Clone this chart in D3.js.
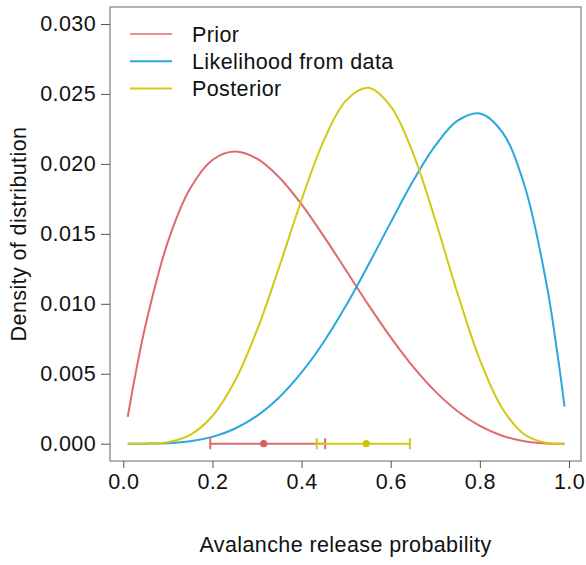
<!DOCTYPE html>
<html>

<head>
	<meta charset="utf-8">
	<script src="https://cdn.jsdelivr.net/npm/d3@7"></script>
	<style>
		body {
			margin: 0;
			background: #fff;
		}

		text {
			font-family: "Liberation Sans", Arial, Helvetica, sans-serif;
			fill: #111;
			letter-spacing: 0.4px;
		}

		.curve {
			fill: none;
			stroke-width: 2;
		}
	</style>
</head>

<body>
	<svg></svg>
	<script>
		var width = 586;
		var height = 565;
		var fontSize = 21.5;

		// probability grid and densities
		var xs = [0.01, 0.025, 0.05, 0.10, 0.15, 0.20, 0.25, 0.30, 0.35, 0.40, 0.45, 0.50,
			0.55, 0.60, 0.65, 0.70, 0.75, 0.80, 0.85, 0.90, 0.95, 0.975, 0.99];
		var prior = [0.00192, 0.00459, 0.00849, 0.01443, 0.01824, 0.02028, 0.02088, 0.02037, 0.01903, 0.01711, 0.01482, 0.01238,
			0.00992, 0.00760, 0.00551, 0.00374, 0.00232, 0.00127, 0.00057, 0.00018, 0.00002, 0.00000, 0.00000];
		var likelihood = [0.00000, 0.00000, 0.000003, 0.00004, 0.00017, 0.00049, 0.00107, 0.00199, 0.00332, 0.00509, 0.00729, 0.00989,
			0.01279, 0.01582, 0.01877, 0.02131, 0.02309, 0.02361, 0.02229, 0.01847, 0.01134, 0.00620, 0.00265];
		var posterior = [0.00000, 0.00000, 0.000005, 0.00011, 0.00063, 0.00198, 0.00446, 0.00812, 0.01265, 0.01744, 0.02168, 0.02454,
			0.02544, 0.02411, 0.02077, 0.01599, 0.01074, 0.00600, 0.00254, 0.00066, 0.00005, 0.00000, 0.00000];

		// point estimates with intervals, drawn on the zero line
		var priorInterval = [0.195, 0.453];
		var priorPoint = 0.315;
		var posteriorInterval = [0.434, 0.643];
		var posteriorPoint = 0.545;

		var seriesNames = ["Prior", "Likelihood from data", "Posterior"];
		var seriesColors = ["#df6a6e", "#29a8dd", "#d4c814"];
		var xTicks = [0, 0.2, 0.4, 0.6, 0.8, 1.0];
		var yTicks = [0, 0.005, 0.010, 0.015, 0.020, 0.025, 0.030];

		var box = { "left": 110, "right": 581, "top": 7, "bottom": 461 };

		var svg = d3.select("svg")
			.attr("width", width)
			.attr("height", height);

		var xScale = d3.scaleLinear()
			.domain([0, 1])
			.range([123.3, 569]);
		var yScale = d3.scaleLinear()
			.domain([0, 0.03])
			.range([443.7, 24]);

		var line = d3.line()
			.curve(d3.curveCatmullRom)
			.x(d => xScale(d[0]))
			.y(d => yScale(d[1]));

		[prior, likelihood, posterior].forEach(function (vals, i) {
			svg.append("path")
				.attr("class", "curve")
				.attr("stroke", seriesColors[i])
				.attr("d", line(xs.map((x, j) => [x, vals[j]])));
		});

		// interval bars
		function intervalBar(iv, pt, color, dotColor) {
			var g = svg.append("g")
				.attr("stroke", color)
				.attr("stroke-width", 2);
			var y0 = yScale(0);
			g.append("line")
				.attr("x1", xScale(iv[0])).attr("x2", xScale(iv[1]))
				.attr("y1", y0).attr("y2", y0);
			iv.forEach(function (v) {
				g.append("line")
					.attr("x1", xScale(v)).attr("x2", xScale(v))
					.attr("y1", y0 - 5.5).attr("y2", y0 + 5.5);
			});
			svg.append("circle")
				.attr("cx", xScale(pt))
				.attr("cy", y0)
				.attr("r", 3.6)
				.attr("fill", dotColor);
		}
		intervalBar(priorInterval, priorPoint, seriesColors[0], "#d95c60");
		intervalBar(posteriorInterval, posteriorPoint, seriesColors[2], "#cfc20c");

		// frame
		svg.append("rect")
			.attr("x", box.left)
			.attr("y", box.top)
			.attr("width", box.right - box.left)
			.attr("height", box.bottom - box.top)
			.attr("fill", "none")
			.attr("stroke", "#666")
			.attr("stroke-width", 1);

		var xAxis = svg.append("g")
			.attr("transform", "translate(0," + box.bottom + ")")
			.call(d3.axisBottom(xScale)
				.tickValues(xTicks)
				.tickFormat(d3.format(".1f"))
				.tickSize(7)
				.tickPadding(6));
		xAxis.select(".domain").remove();
		xAxis.selectAll(".tick line").attr("stroke", "#555");
		xAxis.selectAll("text")
			.attr("font-size", fontSize)
			.attr("font-family", null)
			.attr("fill", "#111");

		var yAxis = svg.append("g")
			.attr("transform", "translate(" + box.left + ",0)")
			.call(d3.axisLeft(yScale)
				.tickValues(yTicks)
				.tickFormat(d3.format(".3f"))
				.tickSize(9)
				.tickPadding(5));
		yAxis.select(".domain").remove();
		yAxis.selectAll(".tick line").attr("stroke", "#555");
		yAxis.selectAll("text")
			.attr("font-size", fontSize)
			.attr("font-family", null)
			.attr("fill", "#111");

		svg.append("text")
			.attr("x", (box.left + box.right) / 2)
			.attr("y", 552)
			.attr("text-anchor", "middle")
			.attr("font-size", fontSize)
			.text("Avalanche release probability");

		svg.append("text")
			.attr("transform", "translate(26," + (box.top + box.bottom) / 2 + ") rotate(-90)")
			.attr("text-anchor", "middle")
			.attr("font-size", fontSize)
			.text("Density of distribution");

		// legend
		var legend = svg.append("g");
		seriesNames.forEach(function (name, i) {
			var ly = 34 + i * 27.3;
			legend.append("line")
				.attr("x1", 130).attr("x2", 172)
				.attr("y1", ly).attr("y2", ly)
				.attr("stroke", seriesColors[i])
				.attr("stroke-width", i == 0 ? 1.5 : 2);
			legend.append("text")
				.attr("x", 192)
				.attr("y", ly + 7.5)
				.attr("font-size", fontSize)
				.text(name);
		});
	</script>
</body>

</html>
